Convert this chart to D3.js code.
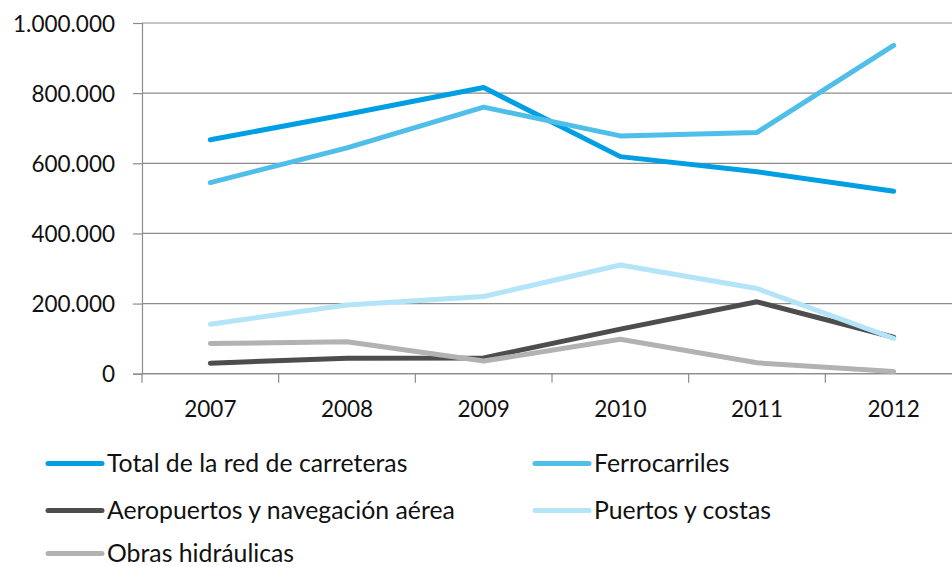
<!DOCTYPE html>
<html>
<head>
<meta charset="utf-8">
<script src="https://cdn.jsdelivr.net/npm/d3@7"></script>
<style>
  html, body { margin: 0; padding: 0; background: #fff; }
  svg { display: block; font-family: Lato, "Open Sans", sans-serif; }
</style>
</head>
<body>
<svg id="chart" width="952" height="567"></svg>
<script>
// Inversión por modo de transporte, 2007–2012
const years = ["2007", "2008", "2009", "2010", "2011", "2012"];
const seriesNames = [
  "Total de la red de carreteras",
  "Ferrocarriles",
  "Aeropuertos y navegación aérea",
  "Puertos y costas",
  "Obras hidráulicas"
];
const carreteras = [667000, 740000, 816000, 619000, 576000, 520000];
const ferrocarriles = [545000, 644000, 760000, 678000, 688000, 936000];
const aeropuertos = [30000, 44000, 45000, 127000, 205000, 104000];
const puertos = [141000, 196000, 220000, 310000, 243000, 101000];
const obras = [86000, 91000, 36000, 98000, 31000, 6000];
const yTicks = [0, 200000, 400000, 600000, 800000, 1000000];
const colors = ["#009fe3", "#4fbfea", "#4d4d4d", "#b3e4f7", "#b2b2b2"];

const seriesValues = [carreteras, ferrocarriles, aeropuertos, puertos, obras];
const series = seriesNames.map((name, i) => ({ name, values: seriesValues[i], color: colors[i] }));

const svg = d3.select("#chart");
const plotLeft = 142, plotRight = 962, plotTop = 23, plotBottom = 373.7;

const x = d3.scaleBand().domain(years).range([plotLeft, plotRight]).padding(0);
const y = d3.scaleLinear().domain([0, 1000000]).range([plotBottom, plotTop]);

const es = d3.formatLocale({ decimal: ",", thousands: ".", grouping: [3], currency: ["", ""] });
const fmt = es.format(",d");

// Horizontal gridlines
svg.append("g")
  .selectAll("line")
  .data(yTicks)
  .join("line")
  .attr("x1", plotLeft).attr("x2", 952)
  .attr("y1", d => y(d)).attr("y2", d => y(d))
  .attr("stroke", "#8c8c8c").attr("stroke-width", 1.2);

// Y axis
const yAxis = svg.append("g")
  .attr("transform", `translate(${plotLeft},0)`)
  .call(d3.axisLeft(y).tickValues(yTicks).tickFormat(fmt).tickSize(9).tickPadding(18));
yAxis.select(".domain").attr("stroke", "#8c8c8c").attr("stroke-width", 1.2);
yAxis.selectAll(".tick line").attr("stroke", "#8c8c8c").attr("stroke-width", 1.2);
yAxis.selectAll(".tick text")
  .attr("font-size", 22.5).attr("fill", "#111").attr("font-family", "Lato, sans-serif").attr("dy", "0.36em");

// X axis: labels centred in each band, ticks on band boundaries
const xAxis = svg.append("g")
  .attr("transform", `translate(0,${plotBottom})`)
  .call(d3.axisBottom(x).tickSize(0).tickPadding(27));
xAxis.select(".domain").remove();
xAxis.selectAll(".tick text")
  .attr("font-size", 22.5).attr("fill", "#111").attr("font-family", "Lato, sans-serif");
svg.append("line")
  .attr("x1", plotLeft).attr("x2", 952).attr("y1", plotBottom).attr("y2", plotBottom)
  .attr("stroke", "#8c8c8c").attr("stroke-width", 1.2);
svg.append("g")
  .selectAll("line")
  .data(years)
  .join("line")
  .attr("x1", d => x(d)).attr("x2", d => x(d))
  .attr("y1", plotBottom).attr("y2", plotBottom + 9)
  .attr("stroke", "#8c8c8c").attr("stroke-width", 1.2);

// Series lines
const line = d3.line()
  .x((d, i) => x(years[i]) + x.bandwidth() / 2)
  .y(d => y(d));
svg.append("g")
  .selectAll("path")
  .data(series)
  .join("path")
  .attr("d", d => line(d.values))
  .attr("fill", "none")
  .attr("stroke", d => d.color)
  .attr("stroke-width", 5)
  .attr("stroke-linecap", "round")
  .attr("stroke-linejoin", "round");

// Legend, two columns
const legendPos = [
  [48, 463.5], [535, 463.5],
  [48, 510.5], [535, 510.5],
  [48, 553.5]
];
const leg = svg.append("g")
  .selectAll("g")
  .data(series)
  .join("g")
  .attr("transform", (d, i) => `translate(${legendPos[i][0]},${legendPos[i][1]})`);
leg.append("line")
  .attr("x1", 0).attr("x2", 54).attr("y1", 0).attr("y2", 0)
  .attr("stroke", d => d.color).attr("stroke-width", 5).attr("stroke-linecap", "round");
leg.append("text")
  .attr("x", 59).attr("y", 0).attr("dy", "0.34em")
  .attr("font-size", 24.8).attr("fill", "#111")
  .text(d => d.name);
</script>
</body>
</html>
